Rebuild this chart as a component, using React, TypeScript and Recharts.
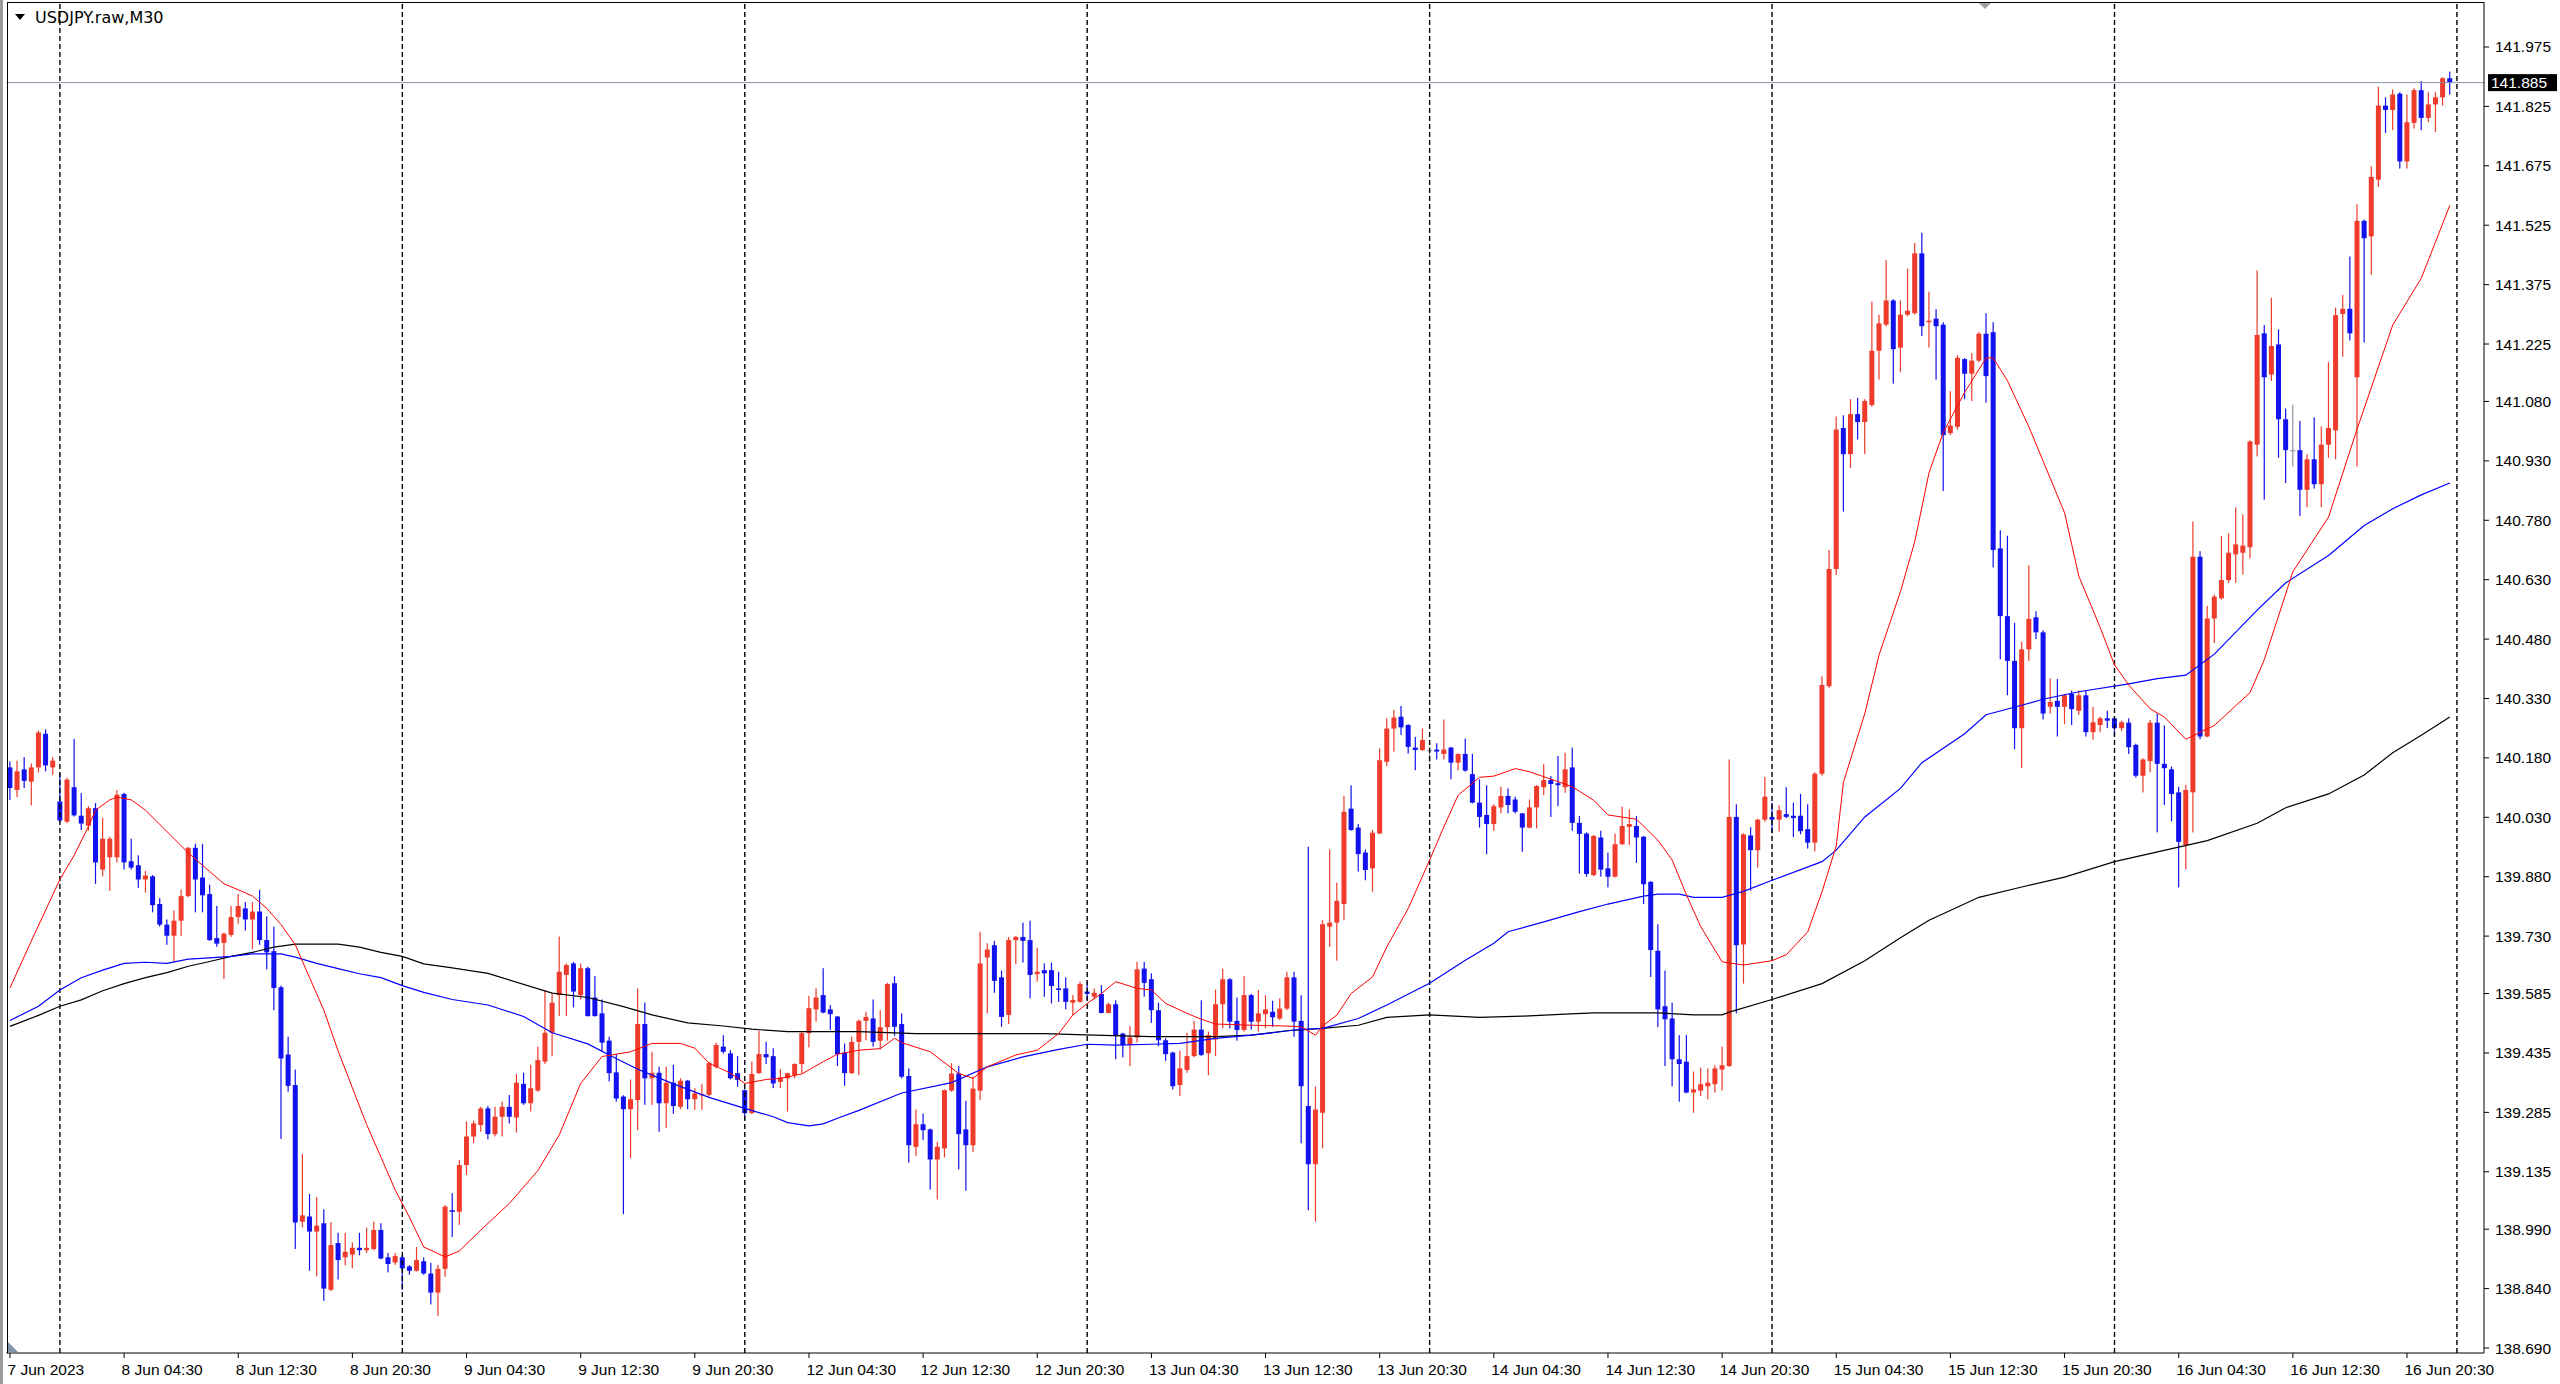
import React from "react";
import { Bar, ComposedChart, Line, ReferenceLine, XAxis, YAxis } from "recharts";

// USDJPY.raw M30 candles, bar 0 = 7 Jun 20:30
const opens = [
  140.156, 140.099, 140.151, 140.120, 140.156, 140.241, 140.156, 140.070, 140.019, 140.106,
  140.034, 140.009, 140.053, 139.898, 139.929, 139.929, 140.089, 139.919, 139.909, 139.873,
  139.881, 139.811, 139.759, 139.731, 139.769, 139.831, 139.953, 139.878, 139.836, 139.725,
  139.713, 139.733, 139.778, 139.800, 139.772, 139.792, 139.720, 139.692, 139.601, 139.431,
  139.354, 139.009, 139.022, 138.984, 139.005, 138.837, 138.955, 138.919, 138.926, 138.943,
  138.937, 138.940, 138.988, 138.919, 138.906, 138.919, 138.896, 138.885, 138.909, 138.878,
  138.830, 138.890, 139.038, 139.034, 139.152, 139.224, 139.253, 139.295, 139.230, 139.274,
  139.299, 139.272, 139.357, 139.308, 139.340, 139.413, 139.486, 139.581, 139.632, 139.661,
  139.581, 139.649, 139.575, 139.535, 139.466, 139.386, 139.325, 139.293, 139.316, 139.508,
  139.371, 139.385, 139.308, 139.360, 139.299, 139.365, 139.318, 139.329, 139.329, 139.400,
  139.451, 139.434, 139.384, 139.341, 139.283, 139.384, 139.432, 139.427, 139.362, 139.371,
  139.379, 139.407, 139.485, 139.545, 139.581, 139.545, 139.527, 139.436, 139.384, 139.463,
  139.516, 139.522, 139.466, 139.500, 139.611, 139.508, 139.377, 139.198, 139.255, 139.242,
  139.166, 139.194, 139.340, 139.383, 139.242, 139.202, 139.340, 139.676, 139.707, 139.626,
  139.531, 139.720, 139.728, 139.720, 139.634, 139.644, 139.644, 139.598, 139.598, 139.562,
  139.564, 139.590, 139.577, 139.584, 139.536, 139.558, 139.484, 139.455, 139.474, 139.648,
  139.621, 139.543, 139.467, 139.436, 139.354, 139.392, 139.427, 139.494, 139.434, 139.469,
  139.558, 139.621, 139.516, 139.493, 139.581, 139.514, 139.533, 139.539, 139.522, 139.547,
  139.626, 139.516, 139.301, 139.154, 139.284, 139.754, 139.764, 139.811, 140.052, 140.004,
  139.941, 139.901, 139.989, 140.170, 140.254, 140.284, 140.263, 140.206, 140.200, 140.200,
  140.201, 140.190, 140.206, 140.168, 140.190, 140.139, 140.067, 140.036, 140.013, 140.055,
  140.084, 140.075, 140.040, 140.004, 140.055, 140.106, 140.124, 140.116, 140.106, 140.156,
  140.016, 139.989, 139.884, 139.979, 139.901, 139.880, 139.962, 140.006, 140.008, 139.981,
  139.867, 139.693, 139.553, 139.522, 139.419, 139.413, 139.335, 139.340, 139.351, 139.356,
  139.393, 139.402, 140.031, 139.709, 139.984, 139.947, 140.024, 140.031, 140.024, 140.038,
  140.034, 140.034, 140.000, 139.966, 140.140, 140.361, 140.657, 141.013, 140.947, 141.048,
  141.028, 141.071, 141.208, 141.274, 141.335, 141.216, 141.299, 141.303, 141.454, 141.280,
  141.289, 141.274, 141.000, 141.016, 141.187, 141.150, 141.183, 141.251, 141.255, 140.709,
  140.538, 140.425, 140.255, 140.454, 140.535, 140.497, 140.309, 140.324, 140.309, 140.342,
  140.299, 140.338, 140.245, 140.263, 140.280, 140.280, 140.255, 140.269, 140.213, 140.135,
  140.172, 140.269, 140.165, 140.151, 140.093, 139.960, 140.093, 140.688, 140.234, 140.532,
  140.583, 140.629, 140.694, 140.698, 140.712, 140.971, 141.252, 141.148, 141.224, 141.035,
  140.957, 140.957, 140.857, 140.934, 140.871, 140.971, 141.007, 141.301, 141.314, 141.141,
  141.536, 141.497, 141.640, 141.827, 141.816, 141.857, 141.686, 141.783, 141.866, 141.796,
  141.830, 141.848, 141.896,
];

const highs = [
  140.171, 140.173, 140.182, 140.166, 140.249, 140.252, 140.182, 140.140, 140.130, 140.228,
  140.091, 140.058, 140.066, 140.029, 139.981, 140.099, 140.092, 139.976, 139.934, 139.895,
  139.884, 139.826, 139.772, 139.795, 139.847, 139.955, 139.963, 139.963, 139.860, 139.806,
  139.739, 139.806, 139.836, 139.816, 139.816, 139.847, 139.780, 139.754, 139.605, 139.476,
  139.393, 139.180, 139.079, 139.071, 139.040, 139.008, 138.981, 138.981, 138.957, 138.981,
  138.994, 139.009, 139.005, 138.930, 138.930, 138.924, 138.899, 138.945, 138.919, 138.905,
  138.900, 139.051, 139.081, 139.165, 139.262, 139.264, 139.299, 139.301, 139.299, 139.312,
  139.329, 139.382, 139.385, 139.405, 139.451, 139.594, 139.586, 139.729, 139.661, 139.665,
  139.661, 139.653, 139.629, 139.570, 139.476, 139.432, 139.328, 139.368, 139.598, 139.562,
  139.438, 139.400, 139.400, 139.405, 139.371, 139.367, 139.346, 139.357, 139.413, 139.461,
  139.480, 139.442, 139.427, 139.343, 139.413, 139.491, 139.463, 139.447, 139.394, 139.385,
  139.409, 139.489, 139.579, 139.598, 139.649, 139.556, 139.528, 139.459, 139.476, 139.520,
  139.539, 139.570, 139.543, 139.612, 139.629, 139.535, 139.396, 139.292, 139.282, 139.244,
  139.211, 139.343, 139.409, 139.402, 139.314, 139.375, 139.741, 139.712, 139.718, 139.643,
  139.728, 139.730, 139.764, 139.769, 139.701, 139.661, 139.663, 139.640, 139.626, 139.581,
  139.615, 139.615, 139.598, 139.606, 139.562, 139.568, 139.486, 139.503, 139.665, 139.665,
  139.636, 139.562, 139.472, 139.438, 139.441, 139.486, 139.516, 139.568, 139.489, 139.595,
  139.648, 139.624, 139.575, 139.629, 139.584, 139.594, 139.581, 139.567, 139.573, 139.640,
  139.640, 139.581, 139.956, 139.350, 139.770, 139.949, 139.865, 140.084, 140.111, 140.013,
  139.949, 139.998, 140.204, 140.280, 140.301, 140.311, 140.265, 140.233, 140.254, 140.208,
  140.217, 140.277, 140.208, 140.191, 140.229, 140.190, 140.126, 140.111, 140.063, 140.107,
  140.103, 140.082, 140.041, 140.075, 140.111, 140.164, 140.134, 140.185, 140.193, 140.206,
  140.033, 139.992, 139.985, 139.996, 139.941, 139.989, 140.057, 140.050, 140.033, 139.983,
  139.869, 139.760, 139.643, 139.562, 139.480, 139.480, 139.388, 139.398, 139.396, 139.404,
  139.451, 140.176, 140.063, 139.990, 140.005, 140.026, 140.132, 140.067, 140.060, 140.106,
  140.067, 140.089, 140.063, 140.144, 140.386, 140.705, 141.042, 141.045, 141.086, 141.089,
  141.086, 141.332, 141.299, 141.437, 141.338, 141.335, 141.415, 141.480, 141.506, 141.357,
  141.313, 141.280, 141.106, 141.197, 141.190, 141.202, 141.255, 141.303, 141.280, 140.755,
  140.741, 140.521, 140.473, 140.666, 140.550, 140.502, 140.381, 140.379, 140.342, 140.350,
  140.350, 140.350, 140.309, 140.284, 140.299, 140.284, 140.274, 140.280, 140.216, 140.179,
  140.276, 140.292, 140.262, 140.158, 140.107, 140.112, 140.777, 140.702, 140.564, 140.592,
  140.740, 140.747, 140.813, 140.795, 140.982, 141.411, 141.273, 141.342, 141.262, 141.062,
  141.072, 141.031, 140.947, 141.040, 141.017, 141.179, 141.317, 141.349, 141.446, 141.578,
  141.539, 141.674, 141.875, 141.848, 141.868, 141.861, 141.855, 141.871, 141.889, 141.861,
  141.861, 141.899, 141.913,
];

const lows = [
  140.074, 140.081, 140.104, 140.060, 140.143, 140.146, 140.137, 140.017, 140.015, 140.032,
  139.998, 139.996, 139.862, 139.881, 139.844, 139.916, 139.898, 139.898, 139.852, 139.840,
  139.790, 139.754, 139.708, 139.666, 139.730, 139.828, 139.790, 139.790, 139.718, 139.703,
  139.622, 139.728, 139.761, 139.744, 139.697, 139.708, 139.646, 139.543, 139.218, 139.337,
  138.940, 138.995, 138.885, 138.871, 138.809, 138.834, 138.863, 138.899, 138.891, 138.924,
  138.930, 138.937, 138.914, 138.881, 138.900, 138.837, 138.875, 138.883, 138.875, 138.800,
  138.771, 138.870, 138.970, 139.001, 139.127, 139.207, 139.236, 139.217, 139.224, 139.224,
  139.257, 139.234, 139.304, 139.287, 139.337, 139.407, 139.427, 139.528, 139.528, 139.550,
  139.570, 139.527, 139.527, 139.438, 139.363, 139.312, 139.028, 139.169, 139.240, 139.304,
  139.304, 139.236, 139.245, 139.281, 139.293, 139.293, 139.291, 139.291, 139.325, 139.396,
  139.434, 139.368, 139.350, 139.267, 139.281, 139.382, 139.407, 139.346, 139.346, 139.287,
  139.371, 139.384, 139.449, 139.514, 139.535, 139.493, 139.402, 139.352, 139.382, 139.379,
  139.467, 139.451, 139.444, 139.466, 139.478, 139.371, 139.158, 139.175, 139.215, 139.090,
  139.065, 139.171, 139.337, 139.141, 139.087, 139.185, 139.316, 139.535, 139.587, 139.501,
  139.508, 139.659, 139.663, 139.573, 139.615, 139.577, 139.560, 139.564, 139.545, 139.531,
  139.562, 139.568, 139.570, 139.535, 139.535, 139.419, 139.424, 139.402, 139.461, 139.577,
  139.511, 139.452, 139.415, 139.343, 139.326, 139.385, 139.424, 139.427, 139.379, 139.427,
  139.497, 139.497, 139.466, 139.489, 139.494, 139.489, 139.497, 139.501, 139.518, 139.543,
  139.476, 139.207, 139.038, 139.009, 139.194, 139.703, 139.668, 139.770, 139.996, 139.893,
  139.871, 139.842, 139.988, 140.159, 140.196, 140.238, 140.191, 140.149, 140.198, 140.168,
  140.176, 140.176, 140.126, 140.149, 140.145, 140.065, 140.004, 139.937, 139.996, 140.040,
  140.040, 140.040, 139.943, 140.002, 140.002, 140.086, 140.031, 140.058, 140.092, 139.996,
  139.888, 139.880, 139.882, 139.880, 139.853, 139.878, 139.960, 139.960, 139.915, 139.811,
  139.627, 139.500, 139.402, 139.351, 139.312, 139.333, 139.284, 139.326, 139.318, 139.335,
  139.340, 139.400, 139.535, 139.610, 139.845, 139.903, 140.019, 139.990, 139.994, 140.028,
  139.980, 139.987, 139.951, 139.944, 140.135, 140.357, 140.642, 140.802, 140.912, 140.984,
  140.947, 141.067, 141.135, 141.270, 141.125, 141.154, 141.295, 141.299, 141.245, 141.216,
  141.135, 140.854, 140.995, 141.009, 141.086, 141.081, 141.179, 141.077, 140.661, 140.429,
  140.338, 140.202, 140.154, 140.425, 140.480, 140.277, 140.292, 140.234, 140.266, 140.263,
  140.289, 140.234, 140.226, 140.245, 140.255, 140.234, 140.248, 140.190, 140.130, 140.093,
  140.144, 139.992, 140.061, 140.020, 139.853, 139.899, 139.992, 140.227, 140.232, 140.470,
  140.580, 140.622, 140.622, 140.643, 140.684, 140.941, 140.832, 141.132, 140.938, 140.874,
  140.916, 140.791, 140.813, 140.860, 140.813, 140.938, 140.934, 141.193, 141.234, 140.916,
  141.229, 141.400, 141.622, 141.758, 141.765, 141.668, 141.668, 141.769, 141.765, 141.785,
  141.760, 141.827, 141.855,
];

const closes = [
  140.104, 140.146, 140.122, 140.156, 140.244, 140.161, 140.173, 140.022, 140.125, 140.035,
  140.014, 140.053, 139.916, 139.976, 139.976, 140.087, 139.916, 139.903, 139.873, 139.883,
  139.808, 139.759, 139.731, 139.769, 139.831, 139.953, 139.873, 139.833, 139.720, 139.711,
  139.736, 139.778, 139.806, 139.772, 139.792, 139.720, 139.689, 139.599, 139.421, 139.352,
  139.007, 139.025, 138.984, 138.999, 138.840, 138.950, 138.912, 138.933, 138.943, 138.937,
  138.943, 138.988, 138.916, 138.902, 138.922, 138.891, 138.885, 138.912, 138.878, 138.830,
  138.890, 139.047, 139.034, 139.152, 139.224, 139.257, 139.295, 139.230, 139.274, 139.299,
  139.274, 139.360, 139.308, 139.346, 139.417, 139.486, 139.562, 139.640, 139.657, 139.590,
  139.649, 139.528, 139.528, 139.461, 139.384, 139.320, 139.293, 139.318, 139.508, 139.371,
  139.385, 139.308, 139.360, 139.301, 139.365, 139.318, 139.333, 139.331, 139.409, 139.455,
  139.438, 139.371, 139.367, 139.283, 139.382, 139.432, 139.424, 139.358, 139.373, 139.384,
  139.407, 139.485, 139.548, 139.575, 139.537, 139.533, 139.432, 139.384, 139.463, 139.516,
  139.526, 139.463, 139.500, 139.609, 139.501, 139.375, 139.202, 139.255, 139.240, 139.166,
  139.198, 139.341, 139.383, 139.230, 139.202, 139.345, 139.661, 139.696, 139.617, 139.526,
  139.720, 139.728, 139.718, 139.632, 139.640, 139.636, 139.604, 139.594, 139.564, 139.569,
  139.609, 139.584, 139.587, 139.536, 139.558, 139.480, 139.455, 139.474, 139.646, 139.612,
  139.543, 139.467, 139.432, 139.351, 139.396, 139.427, 139.494, 139.430, 139.480, 139.558,
  139.621, 139.514, 139.493, 139.581, 139.514, 139.535, 139.545, 139.525, 139.547, 139.626,
  139.514, 139.351, 139.154, 139.292, 139.760, 139.764, 139.819, 140.044, 139.998, 139.937,
  139.897, 139.991, 140.174, 140.254, 140.282, 140.257, 140.208, 140.200, 140.225, 140.200,
  140.196, 140.201, 140.168, 140.190, 140.148, 140.067, 140.031, 140.013, 140.058, 140.084,
  140.061, 140.044, 140.004, 140.055, 140.109, 140.124, 140.114, 140.111, 140.151, 140.016,
  139.988, 139.887, 139.983, 139.898, 139.880, 139.962, 140.008, 140.013, 139.979, 139.861,
  139.695, 139.545, 139.520, 139.419, 139.407, 139.335, 139.343, 139.356, 139.360, 139.396,
  139.404, 140.031, 139.707, 139.987, 139.947, 140.024, 140.082, 140.024, 140.048, 140.031,
  140.028, 139.995, 139.966, 140.140, 140.364, 140.657, 141.009, 140.947, 141.048, 141.028,
  141.081, 141.208, 141.277, 141.335, 141.212, 141.299, 141.309, 141.454, 141.270, 141.284,
  141.270, 140.995, 141.019, 141.190, 141.150, 141.183, 141.251, 141.144, 140.705, 140.538,
  140.425, 140.255, 140.454, 140.531, 140.497, 140.292, 140.321, 140.309, 140.338, 140.303,
  140.338, 140.245, 140.270, 140.280, 140.274, 140.255, 140.270, 140.207, 140.135, 140.176,
  140.269, 140.165, 140.154, 140.089, 139.968, 140.099, 140.688, 140.234, 140.532, 140.587,
  140.629, 140.698, 140.719, 140.716, 140.979, 141.248, 141.141, 141.220, 141.035, 140.957,
  140.957, 140.857, 140.934, 140.871, 140.971, 141.013, 141.298, 141.314, 141.252, 141.536,
  141.492, 141.647, 141.827, 141.816, 141.855, 141.686, 141.785, 141.866, 141.796, 141.830,
  141.848, 141.896, 141.885,
];

// moving averages, [bar, price]
const redMa = [
  [0, 139.599], [3, 139.718], [7, 139.873], [9, 139.934], [11, 140.007], [12, 140.048], [14, 140.074],
  [15, 140.081], [17, 140.074], [19, 140.048], [21, 140.012], [23, 139.976], [25, 139.940], [28, 139.893],
  [30, 139.862], [32, 139.847], [34, 139.831], [36, 139.800], [38, 139.759], [40, 139.708], [42, 139.625],
  [44, 139.543], [46, 139.440], [48, 139.347], [50, 139.254], [52, 139.172], [54, 139.089], [56, 139.020],
  [58, 138.945], [61, 138.920], [63, 138.935], [66, 138.988], [70, 139.055], [74, 139.138], [77, 139.228],
  [80, 139.358], [83, 139.426], [87, 139.438], [90, 139.459], [94, 139.459], [96, 139.447], [98, 139.409],
  [101, 139.384], [103, 139.358], [106, 139.368], [108, 139.371], [111, 139.382], [114, 139.413],
  [116, 139.432], [119, 139.442], [122, 139.446], [124, 139.472], [125, 139.461], [129, 139.438],
  [133, 139.383], [135, 139.371], [137, 139.400], [141, 139.430], [144, 139.442], [147, 139.484],
  [149, 139.531], [151, 139.560], [153, 139.585], [155, 139.615], [158, 139.598], [160, 139.594],
  [162, 139.560], [165, 139.535], [167, 139.520], [169, 139.508], [174, 139.505], [179, 139.503],
  [181, 139.501], [183, 139.480], [184, 139.503], [186, 139.531], [188, 139.585], [191, 139.627],
  [193, 139.703], [196, 139.800], [199, 139.922], [201, 140.006], [203, 140.086], [206, 140.131],
  [208, 140.134], [211, 140.153], [213, 140.145], [217, 140.120], [219, 140.107], [222, 140.073],
  [224, 140.036], [228, 140.025], [231, 139.972], [233, 139.922], [235, 139.834], [237, 139.754],
  [240, 139.665], [243, 139.657], [247, 139.668], [249, 139.683], [252, 139.741], [254, 139.842],
  [256, 139.958], [257, 140.118], [260, 140.292], [262, 140.440], [265, 140.600], [267, 140.726],
  [269, 140.900], [271, 141.002], [274, 141.103], [277, 141.190], [278, 141.190], [280, 141.132],
  [283, 141.016], [285, 140.929], [288, 140.799], [290, 140.639], [293, 140.509], [295, 140.415],
  [297, 140.364], [300, 140.304], [302, 140.283], [305, 140.227], [309, 140.262], [314, 140.345],
  [316, 140.428], [320, 140.650], [325, 140.788], [329, 141.010], [334, 141.273], [338, 141.391],
  [342, 141.575],
];

const blueMa = [
  [0, 139.517], [4, 139.553], [7, 139.594], [10, 139.625], [13, 139.644], [16, 139.661], [19, 139.664],
  [22, 139.661], [25, 139.672], [28, 139.675], [31, 139.679], [34, 139.685], [38, 139.685], [40, 139.677],
  [43, 139.661], [46, 139.648], [49, 139.635], [52, 139.625], [55, 139.605], [58, 139.588], [62, 139.570],
  [67, 139.556], [72, 139.527], [76, 139.486], [81, 139.458], [84, 139.430], [88, 139.394], [93, 139.357],
  [98, 139.323], [103, 139.295], [107, 139.274], [109, 139.259], [112, 139.251], [114, 139.256],
  [116, 139.270], [119, 139.290], [125, 139.334], [132, 139.360], [137, 139.400], [142, 139.425],
  [147, 139.444], [151, 139.457], [155, 139.455], [160, 139.457], [164, 139.459], [169, 139.472],
  [174, 139.480], [177, 139.486], [180, 139.493], [184, 139.497], [189, 139.522], [193, 139.556],
  [199, 139.611], [204, 139.669], [208, 139.712], [210, 139.741], [215, 139.766], [220, 139.792],
  [224, 139.811], [229, 139.831], [231, 139.836], [234, 139.836], [236, 139.828], [240, 139.828],
  [243, 139.843], [247, 139.871], [254, 139.918], [256, 139.947], [260, 140.031], [265, 140.103],
  [268, 140.168], [274, 140.241], [277, 140.289], [282, 140.313], [285, 140.328], [290, 140.347],
  [297, 140.367], [301, 140.380], [305, 140.389], [309, 140.442], [315, 140.553], [319, 140.622],
  [325, 140.691], [330, 140.767], [334, 140.809], [338, 140.844], [342, 140.874],
];

const blackMa = [
  [0, 139.502], [4, 139.530], [7, 139.553], [10, 139.569], [13, 139.592], [16, 139.610], [19, 139.625],
  [22, 139.638], [25, 139.654], [28, 139.666], [31, 139.679], [34, 139.689], [37, 139.702], [40, 139.710],
  [46, 139.710], [49, 139.702], [52, 139.689], [55, 139.679], [58, 139.660], [62, 139.650], [67, 139.636],
  [76, 139.586], [81, 139.575], [86, 139.552], [90, 139.531], [95, 139.511], [100, 139.503],
  [104, 139.495], [109, 139.489], [119, 139.489], [127, 139.484], [145, 139.484], [152, 139.480],
  [160, 139.476], [169, 139.476], [174, 139.480], [179, 139.491], [184, 139.497], [189, 139.505],
  [193, 139.525], [199, 139.531], [206, 139.525], [212, 139.528], [218, 139.533], [222, 139.536],
  [231, 139.536], [236, 139.531], [240, 139.531], [241, 139.538], [247, 139.570], [254, 139.610],
  [260, 139.668], [265, 139.726], [269, 139.770], [276, 139.828], [282, 139.854], [288, 139.879],
  [295, 139.918], [308, 139.971], [315, 140.015], [319, 140.054], [325, 140.089], [330, 140.137],
  [334, 140.193], [338, 140.237], [342, 140.283],
];

const separatorBars = [7, 55, 103, 151, 199, 247, 295, 343];

const xTickBars = [0, 16, 32, 48, 64, 80, 96, 112, 128, 144, 160, 176, 192, 208, 224, 240, 256, 272, 288, 304, 320, 336];
const xTickLabels = [
  "7 Jun 2023", "8 Jun 04:30", "8 Jun 12:30", "8 Jun 20:30", "9 Jun 04:30", "9 Jun 12:30", "9 Jun 20:30",
  "12 Jun 04:30", "12 Jun 12:30", "12 Jun 20:30", "13 Jun 04:30", "13 Jun 12:30", "13 Jun 20:30",
  "14 Jun 04:30", "14 Jun 12:30", "14 Jun 20:30", "15 Jun 04:30", "15 Jun 12:30", "15 Jun 20:30",
  "16 Jun 04:30", "16 Jun 12:30", "16 Jun 20:30",
];

const yTickLabels = [
  "141.975", "141.825", "141.675", "141.525", "141.375", "141.225", "141.080", "140.930", "140.780",
  "140.630", "140.480", "140.330", "140.180", "140.030", "139.880", "139.730", "139.585", "139.435",
  "139.285", "139.135", "138.990", "138.840", "138.690",
];

const lastPrice = 141.885;
const symbolTitle = "USDJPY.raw,M30";
const shiftBars = 4;

const UP = "#ee3b2b";
const DOWN = "#1212ee";
const DOJI = "#8c94a2";
const AXIS_FONT = "'Liberation Sans', Arial, sans-serif";

const rows = Array.from({ length: opens.length + shiftBars }, (_, i) => ({
  i,
  open: opens[i] ?? null,
  high: highs[i] ?? null,
  low: lows[i] ?? null,
  close: closes[i] ?? null,
  red: null as number | null,
  blue: null as number | null,
  black: null as number | null,
}));
redMa.forEach(([b, v]) => (rows[b].red = v));
blueMa.forEach(([b, v]) => (rows[b].blue = v));
blackMa.forEach(([b, v]) => (rows[b].black = v));

const yTickValues = yTickLabels.map(Number);

function Candle(props: any) {
  const { x, y, width, height, payload } = props;
  if (!payload || payload.open == null || !Number.isFinite(y)) return null;
  const { open, high, low, close } = payload;
  const ppu = high > low ? height / (high - low) : 0;
  const yOpen = y + (high - open) * ppu;
  const yClose = y + (high - close) * ppu;
  const color = open === close ? DOJI : close > open ? UP : DOWN;
  const cx = x + width / 2;
  const top = Math.min(yOpen, yClose);
  const bodyH = Math.max(Math.abs(yOpen - yClose), 1.2);
  return (
    <g>
      <rect x={cx - 0.6} y={y} width={1.2} height={Math.max(height, 1)} fill={color} />
      <rect x={cx - 2.5} y={top} width={5} height={bodyH} fill={color} />
    </g>
  );
}

function XTick(props: any) {
  const { x, y, payload } = props;
  const idx = xTickBars.indexOf(payload.value);
  return (
    <text x={x - 2.5} y={y + 15} fontSize={15.5} fontFamily={AXIS_FONT} fill="#000" textAnchor="start">
      {idx >= 0 ? xTickLabels[idx] : ""}
    </text>
  );
}

function YTick(props: any) {
  const { x, y, payload } = props;
  return (
    <text x={x} y={y + 5.5} fontSize={15.5} fontFamily={AXIS_FONT} fill="#000" textAnchor="start">
      {Number(payload.value).toFixed(3)}
    </text>
  );
}

function PriceTag(props: any) {
  const vb = props.viewBox || {};
  const right = (vb.x ?? 0) + (vb.width ?? 0);
  const cy = vb.y ?? 0;
  return (
    <g>
      <rect x={right + 4} y={cy - 8.5} width={69} height={17} fill="#000" />
      <text x={right + 7} y={cy + 5.5} fontSize={15.5} fontFamily={AXIS_FONT} fill="#fff">
        {lastPrice.toFixed(3)}
      </text>
    </g>
  );
}

export default function App() {
  return (
    <div
      style={{
        position: "absolute",
        left: 0,
        top: 0,
        width: 2560,
        height: 1384,
        background: "#fff",
        overflow: "hidden",
      }}
    >
      <ComposedChart
        width={2560}
        height={1384}
        data={rows}
        margin={{ top: 2, right: 0, bottom: 0, left: 6.4 }}
        barCategoryGap={0}
      >
        <XAxis
          dataKey="i"
          type="category"
          ticks={xTickBars}
          interval={0}
          tick={<XTick />}
          tickSize={5}
          height={31}
          padding={{ left: 0, right: 2.1 }}
          axisLine={{ stroke: "#000" }}
          tickLine={{ stroke: "#000" }}
        />
        <YAxis
          orientation="right"
          type="number"
          domain={[138.6774, 142.0886]}
          allowDataOverflow
          ticks={yTickValues}
          interval={0}
          width={76}
          tick={<YTick />}
          tickSize={5}
          tickMargin={6}
          axisLine={{ stroke: "#000" }}
          tickLine={{ stroke: "#000" }}
        />
        {separatorBars.map((b) => (
          <ReferenceLine key={b} x={b} stroke="#000" strokeWidth={1.4} strokeDasharray="5 3" />
        ))}
        <ReferenceLine y={lastPrice} stroke="#8595a8" strokeWidth={1} label={PriceTag} />
        <Bar
          dataKey={(d: any) => (d.high == null ? null : [d.low, d.high])}
          shape={Candle}
          barSize={5}
          isAnimationActive={false}
        />
        <Line dataKey="black" stroke="#000" strokeWidth={1.2} dot={false} connectNulls type="linear" isAnimationActive={false} />
        <Line dataKey="blue" stroke="#0000ff" strokeWidth={1.2} dot={false} connectNulls type="linear" isAnimationActive={false} />
        <Line dataKey="red" stroke="#ff0000" strokeWidth={1} dot={false} connectNulls type="linear" isAnimationActive={false} />
      </ComposedChart>

      {/* window edge and plot frame */}
      <div style={{ position: "absolute", left: 0, top: 0, width: 3, height: 1384, background: "#9a9a9a" }} />
      <div
        style={{
          position: "absolute",
          left: 7,
          top: 2,
          width: 2477,
          height: 1351,
          borderLeft: "1px solid #000",
          borderTop: "1px solid #000",
          boxSizing: "border-box",
          pointerEvents: "none",
        }}
      />
      <svg style={{ position: "absolute", left: 0, top: 0 }} width={2560} height={1384} pointerEvents="none">
        <polygon points="15,14 25,14 20,20" fill="#000" />
        <polygon points="1979,3 1991,3 1985,9" fill="#a0a0a0" />
        <polygon points="8,1342 8,1352 18,1352" fill="#8494aa" />
      </svg>
      <div
        style={{
          position: "absolute",
          left: 35,
          top: 8,
          fontFamily: "'DejaVu Sans', sans-serif",
          fontSize: 16,
          lineHeight: "19px",
          color: "#000",
          whiteSpace: "nowrap",
        }}
      >
        {symbolTitle}
      </div>
    </div>
  );
}
